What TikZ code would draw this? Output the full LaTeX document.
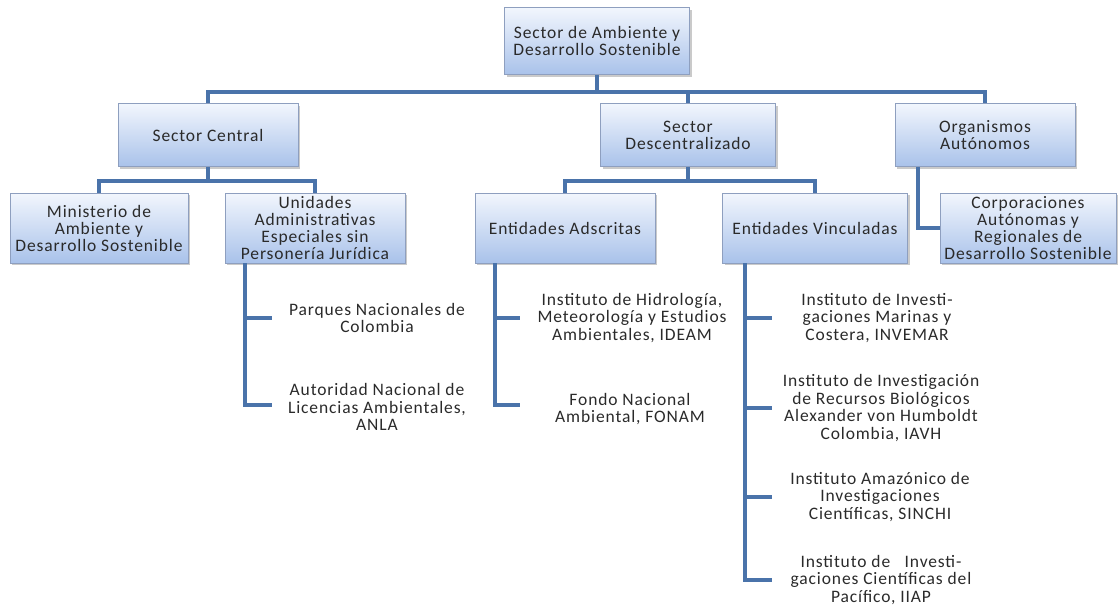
\documentclass[tikz,border=0pt]{standalone}
\usepackage{fontspec}
\setmainfont{Carlito}[LetterSpace=5]
\usetikzlibrary{shadows}
\definecolor{linec}{HTML}{4A73AA}
\definecolor{boxtop}{HTML}{F2F6FD}
\definecolor{boxbot}{HTML}{A9C2EA}
\definecolor{boxdraw}{HTML}{8E9FBF}
\definecolor{txt}{HTML}{2A2A2A}
\tikzset{
  orgbox/.style={rectangle, draw=boxdraw, line width=0.8pt, top color=boxtop, bottom color=boxbot,
    drop shadow={shadow xshift=2pt, shadow yshift=-2pt, fill=black!35, opacity=0.6},
    align=center, inner sep=1pt, text=txt, font=\fontsize{17.5}{17}\selectfont},
  leaf/.style={align=center, text=txt, font=\fontsize{17.5}{17.5}\selectfont, inner sep=0pt},
  conn/.style={draw=linec, line width=4pt}
}
\begin{document}
\begin{tikzpicture}[x=1pt,y=-1pt]
\useasboundingbox (0,0) rectangle (1118,608);
% boxes
\node[orgbox, minimum width=185, minimum height=67] (top) at (597,41) {Sector de Ambiente y\\Desarrollo Sostenible};
\node[orgbox, minimum width=180, minimum height=63] (central) at (208,135) {Sector Central};
\node[orgbox, minimum width=175, minimum height=63] (desc) at (688,135) {Sector\\Descentralizado};
\node[orgbox, minimum width=180, minimum height=63] (org) at (985,135) {Organismos\\Autónomos};
\node[orgbox, minimum width=178, minimum height=70] (min) at (99,228) {Ministerio de\\Ambiente y\\Desarrollo Sostenible};
\node[orgbox, minimum width=180, minimum height=70] (uni) at (315,228) {Unidades\\Administrativas\\Especiales sin\\Personería Jurídica};
\node[orgbox, minimum width=180, minimum height=70] (ads) at (565,228) {Entidades Adscritas};
\node[orgbox, minimum width=185, minimum height=70] (vin) at (815,228) {Entidades Vinculadas};
\node[orgbox, minimum width=176, minimum height=70] (corp) at (1028,228) {Corporaciones\\Autónomas y\\Regionales de\\Desarrollo Sostenible};
% leaves
\node[leaf] (parques) at (377,318) {Parques Nacionales de\\Colombia};
\node[leaf] (anla) at (377,407) {Autoridad Nacional de\\Licencias Ambientales,\\ANLA};
\node[leaf] (ideam) at (632,318) {Instituto de Hidrología,\\Meteorología y Estudios\\Ambientales, IDEAM};
\node[leaf] (fonam) at (630,409) {Fondo Nacional\\Ambiental, FONAM};
\node[leaf] (invemar) at (877,318) {Instituto de Investi-\\gaciones Marinas y\\Costera, INVEMAR};
\node[leaf] (iavh) at (881,408) {Instituto de Investigación\\de Recursos Biológicos\\Alexander von Humboldt\\Colombia, IAVH};
\node[leaf] (sinchi) at (880,497) {Instituto Amazónico de\\Investigaciones\\Científicas, SINCHI};
\node[leaf] (iiap) at (881,580) {Instituto de \ \ Investi-\\gaciones Científicas del\\Pacífico, IIAP};
% junction coordinates
\coordinate (b0) at (597,92);
\coordinate (b1) at (208,181);
\coordinate (b2) at (688,181);
\coordinate (ut) at ([xshift=-70]uni.south);
\coordinate (at) at ([xshift=-70]ads.south);
\coordinate (vt) at ([xshift=-70]vin.south);
\coordinate (ot) at ([xshift=-67]org.south);
\coordinate (tp) at (272,318);
\coordinate (ta) at (272,405);
\coordinate (ti) at (520,318);
\coordinate (tf) at (520,405);
\coordinate (tv1) at (772,318);
\coordinate (tv2) at (772,408);
\coordinate (tv3) at (772,497);
\coordinate (tv4) at (772,580);
% connectors
\draw[conn] (top.south) -- (b0);
\draw[conn] (central.north) |- (b0) -| (org.north);
\draw[conn] (desc.north) -- (desc.north |- b0);
\draw[conn] (central.south) -- (b1);
\draw[conn] (min.north) |- (b1) -| (uni.north);
\draw[conn] (desc.south) -- (b2);
\draw[conn] (ads.north) |- (b2) -| (vin.north);
\draw[conn] (ot) |- (corp.west);
\draw[conn] (ut) |- (tp);
\draw[conn] (ut) |- (ta);
\draw[conn] (at) |- (ti);
\draw[conn] (at) |- (tf);
\draw[conn] (vt) |- (tv1);
\draw[conn] (vt) |- (tv2);
\draw[conn] (vt) |- (tv3);
\draw[conn] (vt) |- (tv4);
\end{tikzpicture}
\end{document}
